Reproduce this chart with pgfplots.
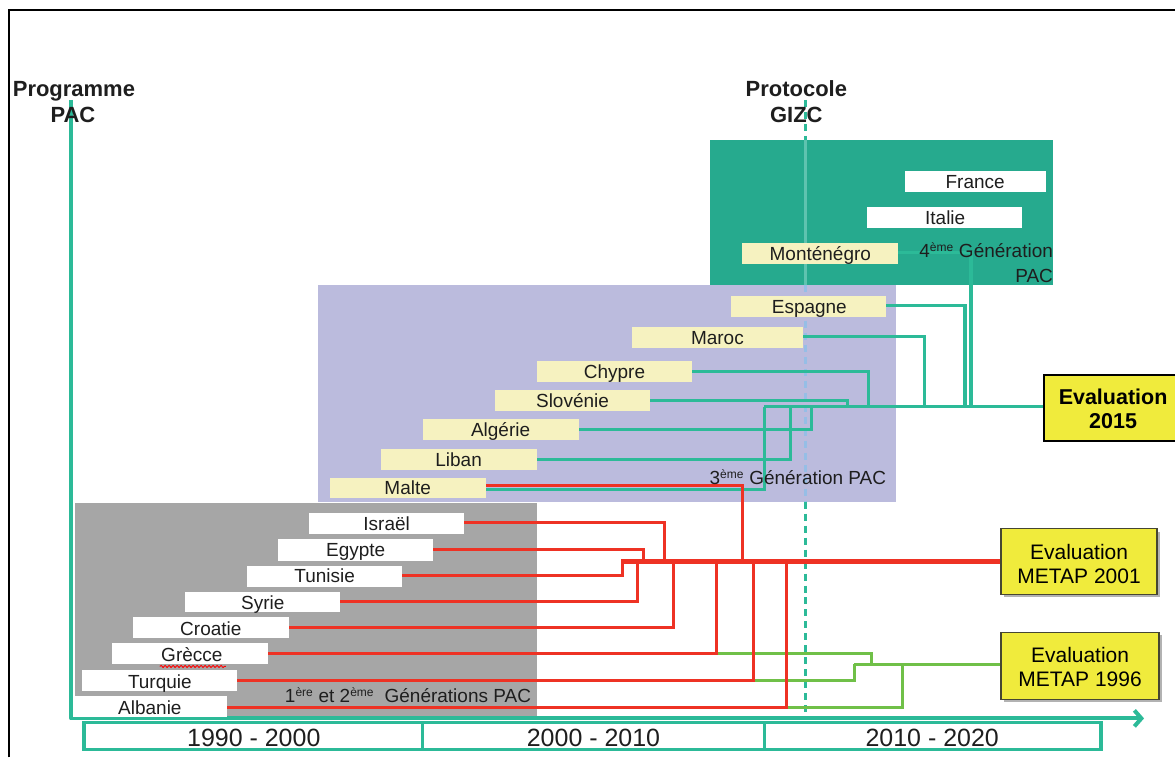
\documentclass[border=0pt]{standalone}
\usepackage{pgfplots}
\pgfplotsset{compat=1.18}
\usepackage{fontspec}
\setmainfont{Liberation Sans}
\usetikzlibrary{arrows.meta,decorations.pathmorphing}

\definecolor{tealL}{RGB}{44,186,152}
\definecolor{tealR}{RGB}{38,170,142}
\definecolor{tealPale}{RGB}{95,195,175}
\definecolor{blueDash}{RGB}{150,190,230}
\definecolor{lav}{RGB}{187,187,221}
\definecolor{grayR}{RGB}{166,166,166}
\definecolor{lbox}{RGB}{246,242,192}
\definecolor{ybox}{RGB}{240,235,60}
\definecolor{redL}{RGB}{238,50,36}
\definecolor{greenL}{RGB}{112,192,72}
\definecolor{txt}{RGB}{30,30,30}

% filled rectangle: x1 y1 x2 y2 colour
\newcommand{\rect}[5]{\addplot[fill=#5, draw=none] coordinates {(#1,#2) (#3,#2) (#3,#4) (#1,#4)} -- cycle;}
% label text: x baseline text
\newcommand{\lab}[3]{\node[anchor=base, inner sep=0pt, text=txt, font=\fontsize{19}{22}\selectfont] at (#1,#2) {#3};}
\newcommand{\supx}[1]{\textsuperscript{\fontsize{12}{12}\selectfont #1}}

\begin{document}
\begin{tikzpicture}
\begin{axis}[
  width=1176pt, height=758pt, scale only axis,
  xmin=0, xmax=1176, ymin=0, ymax=758, y dir=reverse,
  hide axis, clip=false]

% background
\rect{0}{0}{1176}{758}{white}
% frame
\addplot[black, line width=2pt] coordinates {(9,758) (9,10) (1176,10)};

% generation areas
\rect{75}{503}{537}{719}{grayR}
\rect{318}{285}{897}{502}{lav}
\rect{711}{140}{1054}{285}{tealR}

% GIZC dashed line
\addplot[tealL, line width=3.2pt, dash pattern=on 7pt off 5pt] coordinates {(806,100) (806,140)};
\addplot[tealPale, line width=3.2pt] coordinates {(806,140) (806,285)};
\addplot[blueDash, line width=3.2pt, dash pattern=on 7pt off 5pt] coordinates {(806,285) (806,502)};
\addplot[tealL, line width=3.2pt, dash pattern=on 7pt off 5pt] coordinates {(806,502) (806,719)};

% main axes
\addplot[tealL, line width=4pt, line join=round, -{Straight Barb[length=7pt, width=16pt, line width=4pt]}] coordinates {(71,100) (71,719) (1145,719)};

% timeline boxes
\addplot[tealL, fill=white, line width=3.2pt] coordinates {(84,723) (1102,723) (1102,750) (84,750)} -- cycle;
\addplot[tealL, line width=3.2pt] coordinates {(423,723) (423,750)};
\addplot[tealL, line width=3.2pt] coordinates {(765,723) (765,750)};
\node[anchor=base, inner sep=0pt, text=txt, font=\fontsize{25}{28}\selectfont] at (254,747) {1990 - 2000};
\node[anchor=base, inner sep=0pt, text=txt, font=\fontsize{25}{28}\selectfont] at (594,747) {2000 - 2010};
\node[anchor=base, inner sep=0pt, text=txt, font=\fontsize{25}{28}\selectfont] at (933,747) {2010 - 2020};

% green connectors (METAP 1996)
\addplot[greenL, line width=3.4pt] coordinates {(717,654) (872,654) (872,665)};
\addplot[greenL, line width=3.4pt] coordinates {(754,681) (855,681) (855,665)};
\addplot[greenL, line width=3.4pt] coordinates {(787,708) (903,708) (903,665)};
\addplot[greenL, line width=3.4pt] coordinates {(855,665) (1002,665)};

% teal connectors (Evaluation 2015)
\addplot[tealL, line width=3.4pt] coordinates {(899,253) (972,253) (972,407)};
\addplot[tealL, line width=3.4pt] coordinates {(887,306) (966,306) (966,407)};
\addplot[tealL, line width=3.4pt] coordinates {(804,337) (925,337) (925,407)};
\addplot[tealL, line width=3.4pt] coordinates {(693,372) (869,372) (869,407)};
\addplot[tealL, line width=3.4pt] coordinates {(651,401) (848,401) (848,407)};
\addplot[tealL, line width=3.4pt] coordinates {(579,430) (812,430) (812,407)};
\addplot[tealL, line width=3.4pt] coordinates {(537,460) (791,460) (791,407)};
\addplot[tealL, line width=3.4pt] coordinates {(486,490) (765,490) (765,407)};
\addplot[tealL, line width=3.4pt] coordinates {(765,407) (1045,407)};

% red connectors (METAP 2001)
\addplot[redL, line width=3.4pt] coordinates {(486,486) (743,486) (743,562)};
\addplot[redL, line width=3.4pt] coordinates {(464,523) (665,523) (665,562)};
\addplot[redL, line width=3.4pt] coordinates {(433,550) (644,550) (644,562)};
\addplot[redL, line width=3.4pt] coordinates {(402,576) (623,576) (623,562)};
\addplot[redL, line width=3.4pt] coordinates {(340,602) (638,602) (638,562)};
\addplot[redL, line width=3.4pt] coordinates {(289,628) (674,628) (674,562)};
\addplot[redL, line width=3.4pt] coordinates {(268,654) (717,654) (717,562)};
\addplot[redL, line width=3.4pt] coordinates {(237,681) (754,681) (754,562)};
\addplot[redL, line width=3.4pt] coordinates {(227,708) (787,708) (787,562)};
\addplot[redL, line width=4.6pt] coordinates {(622,562) (1002,562)};

% 1st & 2nd generation boxes
\rect{309}{513}{464}{534}{white}
\rect{278}{539}{433}{561}{white}
\rect{247}{566}{402}{587}{white}
\rect{185}{592}{340}{613}{white}
\rect{133}{618}{289}{639}{white}
\rect{112}{644}{268}{665}{white}
\rect{82}{671}{237}{692}{white}
\rect{73}{697}{227}{718}{white}
\lab{387}{531}{Israël}
\lab{356}{557}{Egypte}
\lab{325}{583}{Tunisie}
\lab{263}{610}{Syrie}
\lab{211}{636}{Croatie}
\lab{192}{662}{Grècce}
\lab{160}{689}{Turquie}
\lab{150}{715}{Albanie}
\draw[red, line width=0.9pt, decorate, decoration={snake, amplitude=1.1pt, segment length=4pt}] (160,667) -- (226,667);
\node[anchor=base west, inner sep=0pt, text=txt, font=\fontsize{19}{22}\selectfont] at (285,703) {1\supx{ère} et 2\supx{ème}\ \ Générations PAC};

% 3rd generation boxes
\rect{732}{296}{887}{317}{lbox}
\rect{633}{327}{804}{348}{lbox}
\rect{537}{361}{693}{382}{lbox}
\rect{495}{390}{651}{411}{lbox}
\rect{423}{419}{579}{440}{lbox}
\rect{381}{449}{537}{470}{lbox}
\rect{330}{478}{486}{498}{lbox}
\lab{810}{314}{Espagne}
\lab{718}{345}{Maroc}
\lab{615}{379}{Chypre}
\lab{573}{408}{Slovénie}
\lab{501}{437}{Algérie}
\lab{459}{467}{Liban}
\lab{408}{495}{Malte}
\node[anchor=base west, inner sep=0pt, text=txt, font=\fontsize{19}{22}\selectfont] at (710,485) {3\supx{ème} Génération PAC};

% 4th generation boxes
\rect{906}{171}{1047}{192}{white}
\rect{868}{207}{1023}{228}{white}
\rect{743}{243}{899}{264}{lbox}
\lab{976}{189}{France}
\lab{946}{225}{Italie}
\lab{821}{261}{Monténégro}
\node[anchor=base east, inner sep=0pt, text=txt, font=\fontsize{19}{22}\selectfont] at (1054,258) {4\supx{ème} Génération};
\node[anchor=base east, inner sep=0pt, text=txt, font=\fontsize{19}{22}\selectfont] at (1054,283) {PAC};

% evaluation boxes
\rect{1005}{532}{1161}{598}{gray!60}
\addplot[draw={rgb,255:red,70;green,70;blue,50}, fill=ybox, line width=1.5pt] coordinates {(1002,529) (1158,529) (1158,595) (1002,595)} -- cycle;
\node[anchor=base, inner sep=0pt, text=black, font=\fontsize{21}{24}\selectfont] at (1080,560) {Evaluation};
\node[anchor=base, inner sep=0pt, text=black, font=\fontsize{21}{24}\selectfont] at (1080,584) {METAP 2001};

\rect{1005}{636}{1163}{703}{gray!60}
\addplot[draw={rgb,255:red,70;green,70;blue,50}, fill=ybox, line width=1.5pt] coordinates {(1002,633) (1160,633) (1160,700) (1002,700)} -- cycle;
\node[anchor=base, inner sep=0pt, text=black, font=\fontsize{21}{24}\selectfont] at (1081,663) {Evaluation};
\node[anchor=base, inner sep=0pt, text=black, font=\fontsize{21}{24}\selectfont] at (1081,687) {METAP 1996};

\rect{1045}{375}{1176}{441}{ybox}
\addplot[black, line width=2pt] coordinates {(1176,375) (1045,375) (1045,441) (1176,441)};
\node[anchor=base, inner sep=0pt, text=black, font=\bfseries\fontsize{21.5}{24}\selectfont] at (1114,405) {Evaluation};
\node[anchor=base, inner sep=0pt, text=black, font=\bfseries\fontsize{21.5}{24}\selectfont] at (1114,429) {2015};

% titles
\node[anchor=base, inner sep=0pt, text=txt, font=\bfseries\fontsize{22}{25}\selectfont] at (74,97) {Programme};
\node[anchor=base, inner sep=0pt, text=txt, font=\bfseries\fontsize{22}{25}\selectfont] at (73,123) {PAC};
\node[anchor=base, inner sep=0pt, text=txt, font=\bfseries\fontsize{22}{25}\selectfont] at (797,97) {Protocole};
\node[anchor=base, inner sep=0pt, text=txt, font=\bfseries\fontsize{22}{25}\selectfont] at (797,123) {GIZC};

\end{axis}
\end{tikzpicture}
\end{document}
